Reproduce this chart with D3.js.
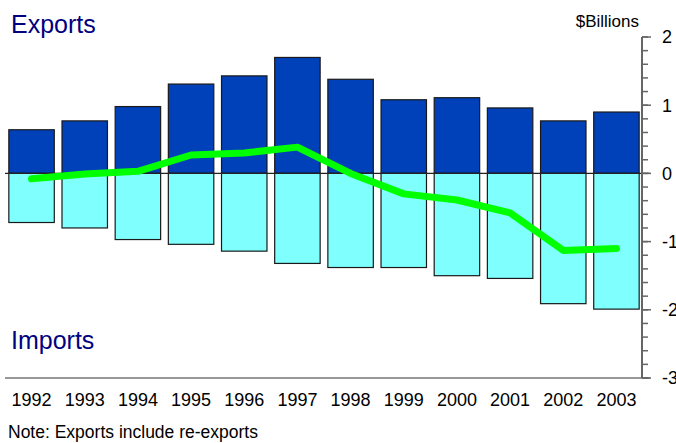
<!DOCTYPE html>
<html><head><meta charset="utf-8">
<script src="https://cdn.jsdelivr.net/npm/d3@7"></script>
<style>body{margin:0;background:#fff}svg{display:block;font-family:Arial,"Liberation Sans",sans-serif}</style>
</head><body>
<script>
const years = ["1992","1993","1994","1995","1996","1997","1998","1999","2000","2001","2002","2003"];
const exportsVals = [0.64,0.77,0.98,1.31,1.43,1.70,1.38,1.08,1.11,0.96,0.77,0.90];
const importsVals = [-0.72,-0.80,-0.97,-1.04,-1.14,-1.32,-1.38,-1.38,-1.50,-1.54,-1.91,-1.99];
const balanceVals = [-0.08,-0.01,0.03,0.27,0.30,0.385,0.0,-0.30,-0.39,-0.58,-1.13,-1.10];
const yMajorTicks = [2,1,0,-1,-2,-3];

const W=676,H=443;
const svg=d3.select("body").append("svg").attr("width",W).attr("height",H);
const x=d3.scaleBand().domain(years).range([5,643]).paddingInner(0.145).paddingOuter(0.072);
const y=d3.scaleLinear().domain([-3,2]).range([378,37]);

// bars
svg.append("g").selectAll("rect").data(years).join("rect")
  .attr("x",d=>x(d)).attr("width",x.bandwidth())
  .attr("y",(d,i)=>y(exportsVals[i])).attr("height",(d,i)=>y(0)-y(exportsVals[i]))
  .attr("fill","#0040b8").attr("stroke","#1a1a1a").attr("stroke-width",1.2);
svg.append("g").selectAll("rect").data(years).join("rect")
  .attr("x",d=>x(d)).attr("width",x.bandwidth())
  .attr("y",y(0)).attr("height",(d,i)=>y(importsVals[i])-y(0))
  .attr("fill","#80ffff").attr("stroke","#1a1a1a").attr("stroke-width",1.2);

// zero and bottom lines
svg.append("line").attr("x1",5).attr("x2",650).attr("y1",y(0)).attr("y2",y(0)).attr("stroke","#222").attr("stroke-width",1.2);
svg.append("line").attr("x1",5).attr("x2",650).attr("y1",y(-3)).attr("y2",y(-3)).attr("stroke","#333").attr("stroke-width",1.2);

// balance line
svg.append("path").datum(balanceVals)
  .attr("d",d3.line().x((d,i)=>x(years[i])+x.bandwidth()/2).y(d=>y(d)))
  .attr("fill","none").attr("stroke","#00ff00").attr("stroke-width",7)
  .attr("stroke-linecap","round").attr("stroke-linejoin","round");

// right axis
const ax=svg.append("g").attr("transform","translate(642,0)");
ax.append("line").attr("x1",0).attr("x2",0).attr("y1",y(2)).attr("y2",y(-3)).attr("stroke","#666").attr("stroke-width",2);
ax.selectAll("line.minor").data(d3.range(-3,2.0001,0.2)).join("line").attr("class","minor")
  .attr("x1",0).attr("x2",6).attr("y1",d=>y(d)).attr("y2",d=>y(d)).attr("stroke","#666").attr("stroke-width",1.5);
ax.selectAll("line.major").data(yMajorTicks).join("line").attr("class","major")
  .attr("x1",0).attr("x2",9).attr("y1",d=>y(d)).attr("y2",d=>y(d)).attr("stroke","#666").attr("stroke-width",1.5);
ax.selectAll("text").data(yMajorTicks).join("text")
  .attr("x",20).attr("y",d=>y(d)).attr("dy","0.36em")
  .attr("font-size",18).attr("fill","#000").text(d=>String(d));

// x labels
svg.append("g").selectAll("text").data(years).join("text")
  .attr("x",d=>x(d)+x.bandwidth()/2).attr("y",406).attr("text-anchor","middle")
  .attr("font-size",18).attr("fill","#000").text(d=>d);

svg.append("text").attr("x",639).attr("y",27).attr("text-anchor","end").attr("font-size",17).text("$Billions");
svg.append("text").attr("x",11).attr("y",33).attr("font-size",25).attr("fill","#000080").text("Exports");
svg.append("text").attr("x",11).attr("y",349).attr("font-size",25).attr("fill","#000080").text("Imports");
svg.append("text").attr("x",8).attr("y",438).attr("font-size",17.5).attr("fill","#000").text("Note: Exports include re-exports");
</script>
</body></html>
